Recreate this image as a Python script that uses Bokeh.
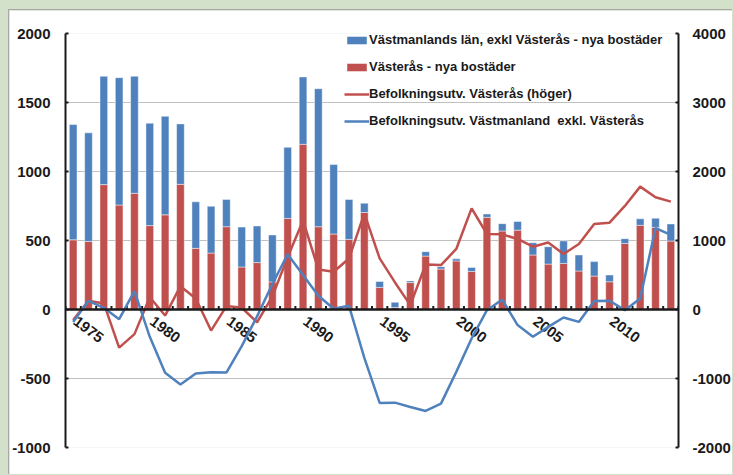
from bokeh.plotting import figure
from bokeh.layouts import column
from bokeh.models import (Range1d, LinearAxis, FixedTicker, Span, Legend, LegendItem,
                          ColumnDataSource)
from bokeh.core.properties import value
from bokeh.embed import file_html
from bokeh.resources import INLINE

# ---------------- data ----------------
years = list(range(1975, 2015))
vasteras_new = [505, 493, 905, 757, 842, 608, 686, 907, 443, 409,
                600, 308, 340, 200, 660, 1197, 600, 547, 508, 703,
                160, 15, 195, 387, 293, 352, 276, 668, 569, 575,
                395, 329, 334, 279, 242, 201, 479, 610, 595, 496]
lan_excl_new = [835, 787, 785, 923, 848, 742, 714, 438, 337, 339,
                198, 289, 265, 340, 515, 488, 1000, 503, 289, 67,
                43, 37, 12, 32, 17, 15, 29, 24, 53, 63,
                89, 126, 163, 116, 105, 49, 34, 47, 66, 124]
pop_vasteras = [-154, 126, 88, -552, -357, 178, -88, 338, 160, -305,
                50, 25, -185, 190, 760, 1290, 580, 547, 740, 1394,
                740, 392, 64, 653, 644, 877, 1466, 1094, 1089, 1022,
                910, 972, 804, 949, 1239, 1258, 1501, 1781, 1626, 1563]
pop_lan_excl = [-90, 63, 12, -70, 133, -198, -459, -544, -464, -455,
                -457, -265, -50, 185, 400, 250, 100, 5, 27, -350,
                -677, -675, -706, -735, -682, -452, -210, -5, 72, -113,
                -198, -126, -58, -90, 61, 63, -5, 80, 590, 540]

left_ticks = [-1000, -500, 0, 500, 1000, 1500, 2000]
right_ticks = [-2000, -1000, 0, 1000, 2000, 3000, 4000]
label_years = [1975, 1980, 1985, 1990, 1995, 2000, 2005, 2010]

series_names = ["Västmanlands län, exkl Västerås - nya bostäder",
                "Västerås - nya bostäder",
                "Befolkningsutv. Västerås (höger)",
                "Befolkningsutv. Västmanland  exkl. Västerås"]

# ---------------- style ----------------
FONT = "Liberation Sans"
BLUE = "#4F81BD"
RED = "#C0504D"
INK = "#1a1a1a"
GRID = "#c0c0c0"
PAGE_BG = "#d4e1ca"

W, H = 724, 465
TOP, BOTTOM, LEFT, RIGHT = 23, 28, 56, 54

src = ColumnDataSource(dict(year=years, vas=vasteras_new, lan=lan_excl_new,
                            pv=pop_vasteras, pl=pop_lan_excl))

p = figure(width=W, height=H, output_backend="svg", toolbar_location=None,
           x_range=Range1d(years[0] - 0.5, years[-1] + 0.5),
           y_range=Range1d(left_ticks[0], left_ticks[-1]),
           x_axis_location=None,
           min_border_left=LEFT, min_border_right=RIGHT,
           min_border_top=TOP, min_border_bottom=BOTTOM,
           styles={"border-left": "1px solid #a8a8a8", "border-top": "1px solid #a8a8a8"})
p.extra_y_ranges = {"right": Range1d(right_ticks[0], right_ticks[-1])}
p.outline_line_color = None
p.background_fill_color = "white"
p.border_fill_color = "white"

# grid
p.xgrid.visible = False
p.ygrid.ticker = FixedTicker(ticks=[t for t in left_ticks if t != 0])
p.ygrid.grid_line_color = GRID
p.ygrid.grid_line_width = 1.2


def style_axis(ax, ticks, standoff):
    ax.ticker = FixedTicker(ticks=ticks)
    ax.major_label_overrides = {t: str(t) for t in ticks}
    ax.axis_line_color = INK
    ax.axis_line_width = 2
    ax.major_tick_line_color = INK
    ax.major_tick_line_width = 2
    ax.major_tick_in = 3
    ax.major_tick_out = 0
    ax.minor_tick_line_color = None
    ax.major_label_text_font = FONT
    ax.major_label_text_font_style = "bold"
    ax.major_label_text_font_size = "15px"
    ax.major_label_text_color = INK
    ax.major_label_standoff = standoff


style_axis(p.yaxis[0], left_ticks, 15)
yr = LinearAxis(y_range_name="right")
style_axis(yr, right_ticks, 14)
p.add_layout(yr, "right")

# stacked bars
bars = p.vbar_stack(["vas", "lan"], x="year", width=0.5, source=src,
                    color=[RED, BLUE], line_color="white", line_alpha=0.45, line_width=1)

# zero axis line with small ticks between categories
p.add_layout(Span(location=0, dimension="width", line_color=INK, line_width=2.5))
bounds = [y - 0.5 for y in years] + [years[-1] + 0.5]
px_per_unit = (H - TOP - BOTTOM) / (left_ticks[-1] - left_ticks[0])
tick_len = 3.5 / px_per_unit
p.segment(x0=bounds, y0=[0] * len(bounds), x1=bounds, y1=[tick_len] * len(bounds),
          line_color=INK, line_width=2)

# year labels under the zero line (rotated)
p.text(x=label_years, y=[0] * len(label_years), text=[str(y) for y in label_years],
       angle=-37, angle_units="deg", text_align="left", text_baseline="top",
       x_offset=5, y_offset=6,
       text_font=value(FONT), text_font_style="bold", text_font_size="15px",
       text_color=INK)

# lines
lr = p.line(x="year", y="pv", source=src, y_range_name="right",
            line_color=RED, line_width=2.5)
lb = p.line(x="year", y="pl", source=src, line_color=BLUE, line_width=2.5)

frame_h = H - TOP - BOTTOM
legend = Legend(items=[LegendItem(label=series_names[0], renderers=[bars[1]]),
                       LegendItem(label=series_names[1], renderers=[bars[0]]),
                       LegendItem(label=series_names[2], renderers=[lr]),
                       LegendItem(label=series_names[3], renderers=[lb])],
                location=(279, frame_h - 95), padding=0, margin=0, spacing=12,
                glyph_width=25, glyph_height=10, label_height=10, label_standoff=0,
                label_text_font=FONT, label_text_font_style="bold",
                label_text_font_size="13px", label_text_color=INK,
                border_line_color=None, background_fill_alpha=0)
p.add_layout(legend)

root = column(p, width=733, height=475,
              styles={"background-color": PAGE_BG, "padding-left": "8px", "padding-top": "9px",
                      "box-sizing": "border-box"})

open("out.html", "w").write(file_html(root, INLINE))
